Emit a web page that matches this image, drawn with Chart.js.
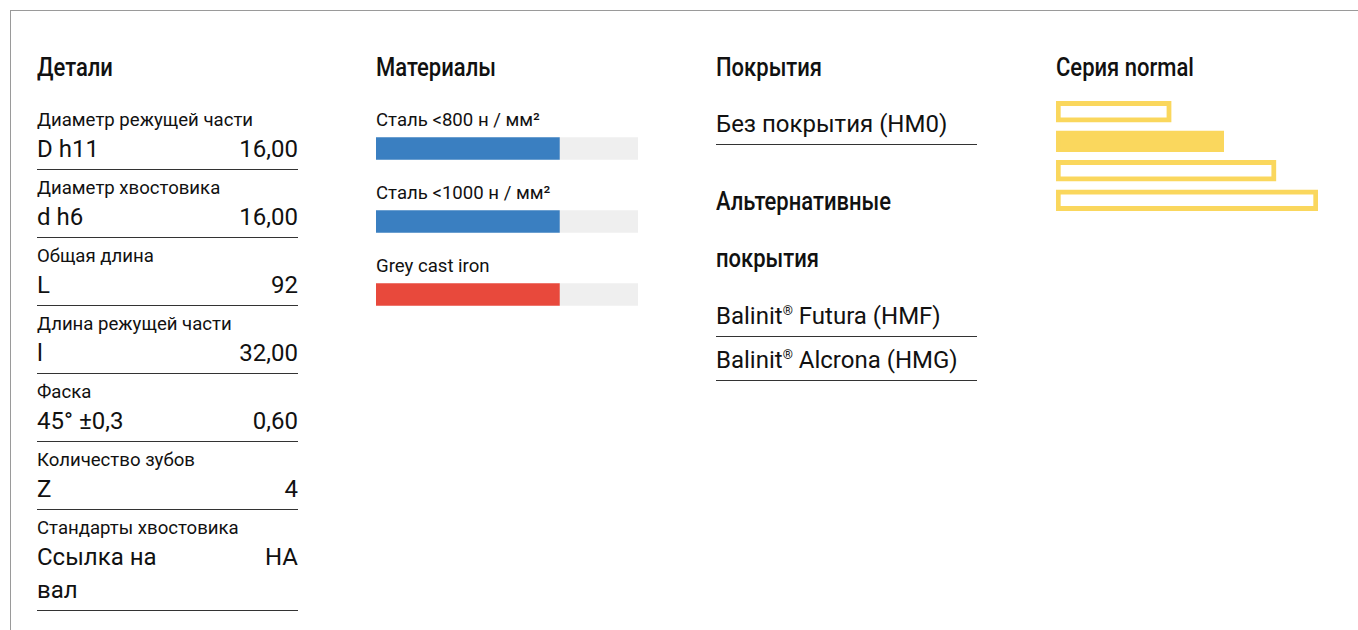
<!DOCTYPE html>
<html>
<head>
<meta charset="utf-8">
<script src="https://cdn.jsdelivr.net/npm/chart.js@4"></script>
<style>
  html, body { margin: 0; padding: 0; background: #fff; }
  body { width: 1358px; height: 630px; overflow: hidden; position: relative; font-family: Roboto, sans-serif; color: #111; }
  .frame { position: absolute; left: 10px; top: 10px; width: 1400px; height: 700px; border-left: 1px solid #9a9a9a; border-top: 1px solid #9a9a9a; }
  .col { position: absolute; top: 52px; width: 261px; }
  h2 { margin: 0; font-family: Roboto, sans-serif; font-weight: 500; font-size: 25px; line-height: 32px; color: #111; white-space: nowrap; }
  h2 span { display: inline-block; transform: scaleX(0.88); transform-origin: left center; }
  .row { padding: 8px 0 3px; border-bottom: 1px solid #333; }
  .lbl { font-size: 18.6px; line-height: 20px; margin-bottom: 3px; }
  .val { display: flex; justify-content: space-between; font-size: 24px; line-height: 33px; }
  .val span:first-child { width: 50%; }
  .val span:last-child { text-align: right; }
  .mlabel { position: absolute; left: 0; font-size: 18.6px; line-height: 20px; white-space: nowrap; }
  .item { font-size: 24px; line-height: 33px; padding: 1px 0 3px; border-bottom: 1px solid #333; white-space: nowrap; }
  .alt { line-height: 57px; margin-top: 28px; margin-bottom: 7px; }
  sup { font-size: 13px; }
</style>
</head>
<body>
<div class="frame"></div>

<div class="col" style="left:37px">
  <h2><span>Детали</span></h2>
  <div id="details" style="margin-top:18px"></div>
</div>

<div class="col" style="left:376px; height:300px">
  <h2><span>Материалы</span></h2>
  <div id="mlabels"></div>
  <canvas id="materials" width="262" height="219" style="position:absolute; left:0; top:60px"></canvas>
</div>

<div class="col" style="left:716px">
  <h2><span>Покрытия</span></h2>
  <div class="item" style="margin-top:20px; padding-top:4px">Без покрытия (HM0)</div>
  <h2 class="alt"><span>Альтернативные</span><br><span>покрытия</span></h2>
  <div class="item" style="padding-top:0">Balinit<sup>®</sup> Futura (HMF)</div>
  <div class="item">Balinit<sup>®</sup> Alcrona (HMG)</div>
</div>

<div class="col" style="left:1056px">
  <h2><span>Серия normal</span></h2>
  <canvas id="series" width="262" height="118" style="position:absolute; left:0; top:45px"></canvas>
</div>

<script>
const detailLabels = ['Диаметр режущей части', 'Диаметр хвостовика', 'Общая длина', 'Длина режущей части', 'Фаска', 'Количество зубов', 'Стандарты хвостовика'];
const detailKeys = ['D h11', 'd h6', 'L', 'l', '45° ±0,3', 'Z', 'Ссылка на вал'];
const detailValues = ['16,00', '16,00', '92', '32,00', '0,60', '4', 'HA'];

const materials = ['Сталь <800 н / мм²', 'Сталь <1000 н / мм²', 'Grey cast iron'];
const materialScore = [70, 70, 70];
const materialColors = ['#3a7fc1', '#3a7fc1', '#e8493c'];
const scoreMax = 100;

const seriesLevels = ['1', '2', '3', '4'];
const seriesValues = [44, 64, 84, 100];
const seriesActive = [false, true, false, false];

const yellow = '#fad75d';

const det = document.getElementById('details');
detailLabels.forEach((l, i) => {
  const r = document.createElement('div');
  r.className = 'row';
  r.innerHTML = '<div class="lbl"></div><div class="val"><span></span><span></span></div>';
  r.querySelector('.lbl').textContent = l;
  const s = r.querySelectorAll('.val span');
  s[0].textContent = detailKeys[i];
  s[1].textContent = detailValues[i];
  det.appendChild(r);
});

const ml = document.getElementById('mlabels');
materials.forEach((m, i) => {
  const d = document.createElement('div');
  d.className = 'mlabel';
  d.style.top = (58 + i * 73) + 'px';
  d.textContent = m;
  ml.appendChild(d);
});

const hidden = { display: false };

new Chart(document.getElementById('materials'), {
  type: 'bar',
  data: {
    labels: materials,
    datasets: [
      { data: materialScore, backgroundColor: materialColors, barThickness: 22 },
      { data: materialScore.map(v => scoreMax - v), backgroundColor: '#efefef', barThickness: 22 }
    ]
  },
  options: {
    indexAxis: 'y', responsive: false, animation: false, devicePixelRatio: 1,
    plugins: { legend: hidden, tooltip: { enabled: false } },
    layout: { padding: 0 },
    scales: {
      x: { stacked: true, min: 0, max: scoreMax, display: false },
      y: { stacked: true, display: false }
    }
  }
});

new Chart(document.getElementById('series'), {
  type: 'bar',
  data: {
    labels: seriesLevels,
    datasets: [{
      data: seriesValues,
      backgroundColor: seriesActive.map(a => a ? yellow : '#fff'),
      borderColor: yellow,
      borderWidth: 5,
      borderSkipped: false,
      barThickness: 21
    }]
  },
  options: {
    indexAxis: 'y', responsive: false, animation: false, devicePixelRatio: 1,
    plugins: { legend: hidden, tooltip: { enabled: false } },
    layout: { padding: 0 },
    scales: {
      x: { min: 0, max: 100, display: false },
      y: { display: false }
    }
  }
});
</script>
</body>
</html>
